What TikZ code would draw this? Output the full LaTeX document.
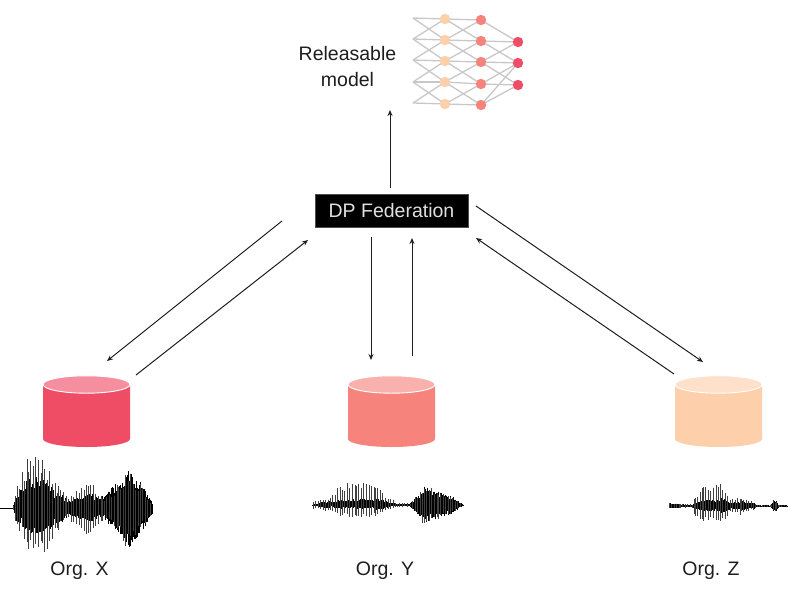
\documentclass[tikz,border=0pt]{standalone}
\usepackage{fontspec}
\setmainfont{Liberation Sans}
\usetikzlibrary{arrows.meta}
\definecolor{cRed}{HTML}{EF4D66}
\definecolor{cRedT}{HTML}{F58FA0}
\definecolor{cSal}{HTML}{F6847C}
\definecolor{cSalT}{HTML}{F9B1AD}
\definecolor{cPea}{HTML}{FDCFAB}
\definecolor{cPeaT}{HTML}{FEE0CB}
\definecolor{cEdge}{HTML}{C8C8C8}
\definecolor{cInk}{HTML}{1E1E1E}
\tikzset{
  conn/.style={draw=cInk,line width=1pt,-{Stealth[length=6pt,width=5pt]}},
  lbl/.style={font=\fontsize{19.5}{24}\selectfont,text=cInk,inner sep=0pt,align=center},
  neuron/.style={circle,minimum size=10.5pt,inner sep=0pt},
  nnedge/.style={draw=cEdge,line width=1.3pt},
}
% cx, body colour, top colour
\newcommand{\drumshape}[3]{%
  \fill[#2] (#1-43.5,385) -- (#1-43.5,439)
    arc[start angle=180,end angle=0,x radius=43.5,y radius=8]
    -- (#1+43.5,385) -- cycle;
  \fill[#3,draw=white,line width=0.9pt] (#1,384.5) circle[x radius=43.5,y radius=8.7];
}
% centre y; segments xa/aa/xb/ab/core/down
\newcommand{\voicewave}[2]{%
  \foreach \xa/\aa/\xb/\ab/\cf/\dn in {#2} {%
    \pgfmathsetmacro{\xn}{\xa+0.5}%
    \foreach \px in {\xa,\xn,...,\xb} {%
      \pgfmathsetmacro{\amp}{\aa+(\ab-\aa)*(\px-\xa)/(\xb-\xa)}%
      \pgfmathsetmacro{\ru}{\amp*\cf*(0.55+0.45*rnd)}%
      \pgfmathsetmacro{\rd}{\amp*\cf*\dn*(0.55+0.45*rnd)}%
      \draw[black,line width=0.75pt] (\px,#1-\ru) -- (\px,#1+\rd);
    }%
    \pgfmathsetmacro{\xs}{\xa+2.6}%
    \foreach \px in {\xa,\xs,...,\xb} {%
      \pgfmathsetmacro{\amp}{\aa+(\ab-\aa)*(\px-\xa)/(\xb-\xa)}%
      \pgfmathsetmacro{\ru}{\amp*(0.6+0.4*rnd)}%
      \pgfmathsetmacro{\rd}{\amp*\dn*(0.6+0.4*rnd)}%
      \draw[black!75,line width=1pt] (\px,#1-\ru) -- (\px,#1+\rd);
    }%
  }%
}
\begin{document}
\begin{tikzpicture}[x=1pt,y=-1pt]
\pgfmathsetseed{4242}
\fill[white] (0,0) rectangle (789,594);
\path[use as bounding box] (0,0) rectangle (789,594);

% neural network
\foreach \i/\y in {1/18,2/39,3/60,4/82,5/103} \coordinate (in\i) at (413,\y);
\foreach \i/\y in {1/19,2/40,3/61,4/82,5/104} \node[neuron] (ha\i) at (445,\y) {};
\foreach \i/\y in {1/20,2/41,3/62,4/84,5/105} \node[neuron] (hb\i) at (481,\y) {};
\foreach \i/\y in {1/42,2/63,3/85} \node[neuron] (ou\i) at (518,\y) {};
\foreach \a/\b in {1/1,1/2,2/1,2/2,2/3,3/2,3/3,3/4,4/3,4/4,4/5,5/4,5/5} {
  \draw[nnedge] (in\a) -- (ha\b.center);
  \draw[nnedge] (ha\a.center) -- (hb\b.center);
}
\foreach \a/\b in {1/1,2/1,2/2,3/1,3/2,3/3,4/2,4/3,5/2,5/3}
  \draw[nnedge] (hb\a.center) -- (ou\b.center);
\foreach \i in {1,...,5} {
  \fill[cPea] (ha\i) circle[radius=5.2];
  \fill[cSal] (hb\i) circle[radius=5.2];
}
\foreach \i in {1,2,3} \fill[cRed] (ou\i) circle[radius=5.2];

\node[lbl] (rel) at (347.5,66.5) {Releasable\\[2pt]model};

% federation box
\node[fill=black,draw=black!70,line width=0.4pt,minimum width=153pt,minimum height=33pt,inner sep=0pt,
      text=white!88!black,font=\fontsize{19.5}{24}\selectfont] (fed) at (391.5,210.5) {DP Federation};

% drums
\drumshape{86.5}{cRed}{cRedT}
\drumshape{391.5}{cSal}{cSalT}
\drumshape{718.5}{cPea}{cPeaT}

% arrows
\coordinate (up0) at (390,188); \coordinate (up1) at (390,110);
\coordinate (xd0) at (282,221); \coordinate (xd1) at (107,361);
\coordinate (xu0) at (136,375); \coordinate (xu1) at (308,240);
\coordinate (yd0) at (371,237); \coordinate (yd1) at (371,360);
\coordinate (yu0) at (412,356); \coordinate (yu1) at (412,238);
\coordinate (zd0) at (476,206); \coordinate (zd1) at (703,362);
\coordinate (zu0) at (674,374); \coordinate (zu1) at (476,238);
\foreach \a/\b in {up0/up1,xd0/xd1,xu0/xu1,yd0/yd1,yu0/yu1,zd0/zd1,zu0/zu1}
  \draw[conn] (\a) -- (\b);

% waveforms
\draw[black,line width=0.5pt] (0,508) -- (14,508);
\voicewave{508}{13/3/17/22/.7/1, 17/22/28/54/.62/.85, 28/54/42/50/.6/.85, 42/50/58/24/.6/1, 58/24/66/12/.8/1, 66/12/88/28/.5/1, 88/28/102/14/.6/1, 102/14/104/10/1/1, 104/10/118/24/1.15/1, 118/24/128/38/.9/1.1, 128/38/140/24/1/1.1, 140/24/152/6/1.1/1}
\draw[black,line width=0.5pt] (312,505) -- (464,505);
\voicewave{505}{313/5/318/5/.2/1, 318/5/330/8/.5/.8, 330/8/342/22/.3/.7, 342/22/356/28/.22/.55, 356/28/375/20/.25/.6, 375/20/397/2/.4/.7, 397/2/410/2/.5/1, 410/2/420/14/.9/.9, 420/14/424/22/.7/1, 424/22/438/15/.85/1, 438/15/450/10/.9/1, 450/10/463/.5/1/1}
\draw[black,line width=0.5pt] (669,506) -- (788,506);
\voicewave{506}{669/3/680/2.5/.9/.9, 680/2.5/692/2/.7/.8, 692/2/695/11/.4/1, 695/11/703/19/.3/.9, 703/19/720/23/.3/.85, 720/23/730/8/.4/1, 730/8/741/11/.4/.8, 741/11/753/5/.5/.8, 753/5/757/1/.8/1, 757/1/771/1/.8/1, 771/1/773/5/1/1, 773/5/776/5/1/1, 776/5/779/1/1/1, 779/1/787/.6/1/1}

% labels
\node[lbl] (orgx) at (79.5,570.5) {Org. X};
\node[lbl] (orgy) at (385,570.5) {Org. Y};
\node[lbl] (orgz) at (711,570.5) {Org. Z};
\end{tikzpicture}
\end{document}
